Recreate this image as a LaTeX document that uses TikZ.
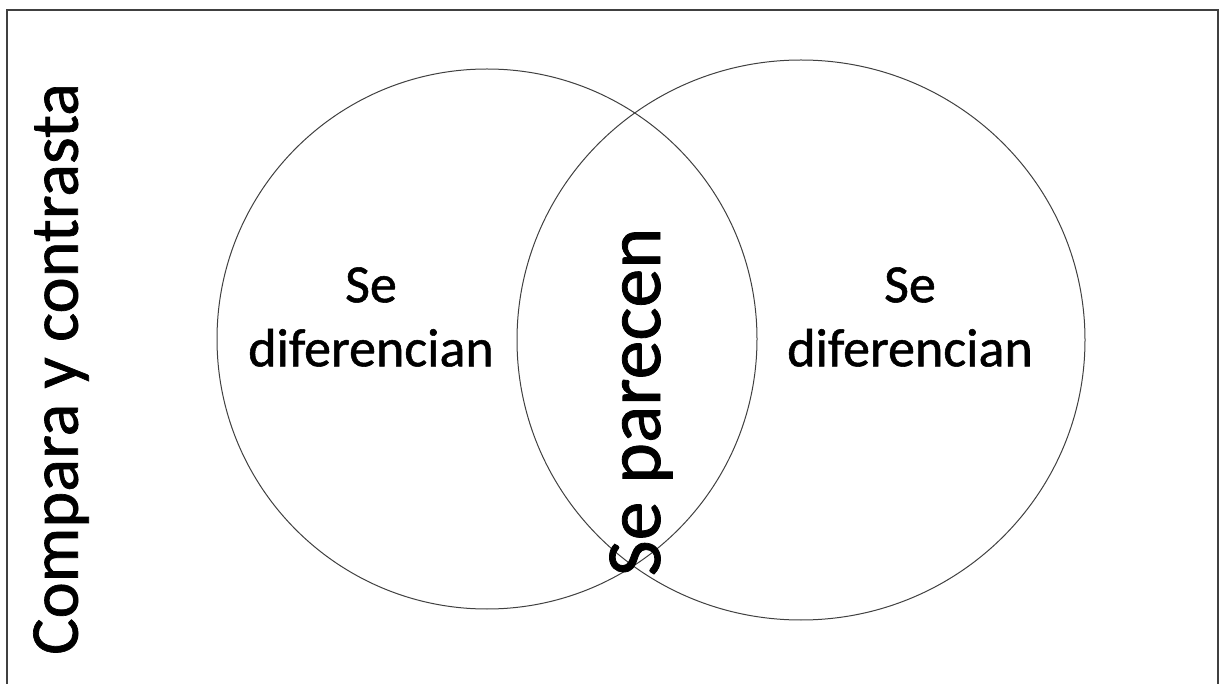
\documentclass[tikz,border=0pt]{standalone}
\usepackage{fontspec}
\setmainfont{Carlito}[FakeBold=1]
\begin{document}
\begin{tikzpicture}[x=0.5pt,y=-0.5pt,
  conjunto/.style={draw=black!75,line width=0.5pt},
  rotulo/.style={align=center,font=\fontsize{27}{32}\selectfont}]

\useasboundingbox (0,0) rectangle (1222,684);

% Marco
\draw[black!75,line width=1pt] (7,700) -- (7,10) -- (1218,10) -- (1218,700);

% Circulos
\draw[conjunto] (487,339) circle[radius=270];
\draw[conjunto] (801,340) ellipse[x radius=284,y radius=280];

% Textos
\node[rotulo] (izq) at (371,317) {Se\\diferencian};
\node[rotulo] (der) at (910,317) {Se\\diferencian};
\node[rotate=90,font=\fontsize{39}{46}\selectfont] (comun) at (641,402) {Se parecen};

% Titulo
\node[rotate=90,font=\fontsize{34.2}{41}\selectfont] (titulo) at (61,369) {Compara y contrasta};

\end{tikzpicture}
\end{document}
